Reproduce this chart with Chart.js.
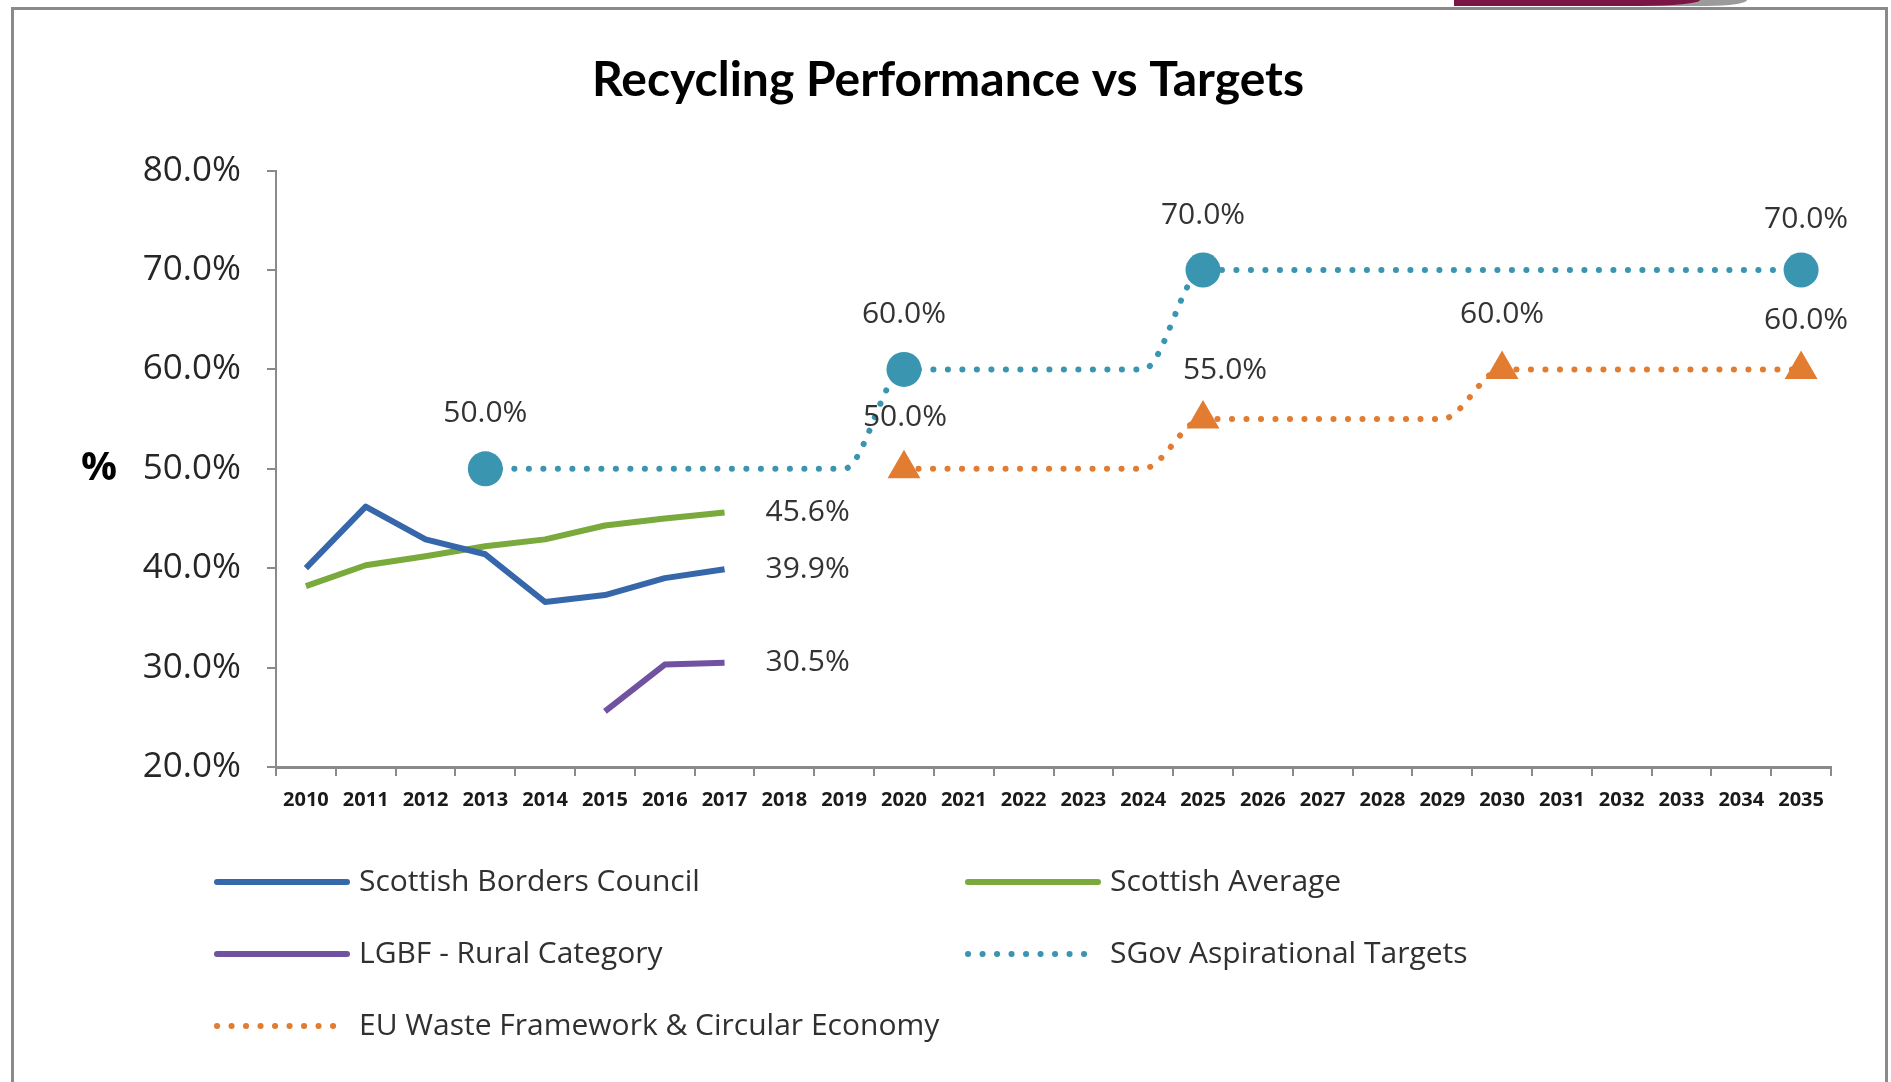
<!DOCTYPE html>
<html>
<head>
<meta charset="utf-8">
<title>Recycling Performance vs Targets</title>
<script src="https://cdn.jsdelivr.net/npm/chart.js@4.4.1/dist/chart.umd.min.js"></script>
<style>
    html, body { margin: 0; padding: 0; background: #fff; }
    body { width: 1891px; height: 1082px; position: relative; overflow: hidden; }
    #frame {
        position: absolute; left: 11px; top: 7px; width: 1871px; height: 1100px;
        border: 3px solid #8a8a8a;
    }
    #logo-grey {
        position: absolute; left: 1460px; top: 0; width: 287px; height: 6px;
        background: #9b9b9b; border-bottom-right-radius: 40px 6px;
    }
    #logo {
        position: absolute; left: 1454px; top: 0; width: 246px; height: 6px;
        background: #7b1547; border-bottom-right-radius: 60px 6px;
    }
    canvas { position: absolute; left: 0; top: 0; }
</style>
</head>
<body>
<div id="logo-grey"></div>
<div id="logo"></div>
<div id="frame"></div>
<canvas id="chart" width="1891" height="1082"></canvas>
<script>
const years = ['2010', '2011', '2012', '2013', '2014', '2015', '2016', '2017', '2018',
    '2019', '2020', '2021', '2022', '2023', '2024', '2025', '2026', '2027', '2028',
    '2029', '2030', '2031', '2032', '2033', '2034', '2035'];

const yTicks = [20, 30, 40, 50, 60, 70, 80];

// actuals (%), null where no figure
const bordersCouncil = [40.0, 46.2, 42.9, 41.4, 36.6, 37.3, 39.0, 39.9,
    null, null, null, null, null, null, null, null, null, null, null, null, null, null, null, null, null, null];
const scottishAverage = [38.2, 40.3, 41.2, 42.2, 42.9, 44.3, 45.0, 45.6,
    null, null, null, null, null, null, null, null, null, null, null, null, null, null, null, null, null, null];
const lgbfRural = [null, null, null, null, null, 25.6, 30.3, 30.5,
    null, null, null, null, null, null, null, null, null, null, null, null, null, null, null, null, null, null];

// targets (%)
const sgovTargets = [null, null, null, 50, 50, 50, 50, 50, 50, 50,
    60, 60, 60, 60, 60, 70, 70, 70, 70, 70, 70, 70, 70, 70, 70, 70];
const euTargets = [null, null, null, null, null, null, null, null, null, null,
    50, 50, 50, 50, 50, 55, 55, 55, 55, 55, 60, 60, 60, 60, 60, 60];

// which points carry a marker / value label
const actualsLabelled = [7];
const sgovMarked = [3, 10, 15, 25];
const euMarked = [10, 15, 20, 25];

const FONT = '"Open Sans", "DejaVu Sans", sans-serif';
const AXIS_GREY = '#8a8a8a';

function markerRadii(values, marked, r) {
    return values.map((v, i) => marked.includes(i) ? r : 0);
}

// value labels, the "%" axis caption and the two-column legend
const extrasPlugin = {
    id: 'extras',
    afterDatasetsDraw(chart) {
        const ctx = chart.ctx;
        ctx.save();
        ctx.font = '30px ' + FONT;
        ctx.fillStyle = '#333333';
        ctx.textBaseline = 'middle';
        chart.data.datasets.forEach((ds, i) => {
            const meta = chart.getDatasetMeta(i);
            (ds.labelAt || []).forEach(idx => {
                const pt = meta.data[idx];
                const text = ds.data[idx].toFixed(1) + '%';
                const [dx, dy] = (ds.labelShift && ds.labelShift[idx]) || [0, 0];
                if (ds.labelSide === 'right') {
                    ctx.textAlign = 'left';
                    ctx.fillText(text, pt.x + 41 + dx, pt.y + dy);
                } else {
                    ctx.textAlign = 'center';
                    ctx.fillText(text, pt.x + dx, pt.y - 55 + dy);
                }
            });
        });
        ctx.restore();
    },
    afterDraw(chart) {
        const ctx = chart.ctx;
        ctx.save();

        // axis caption
        ctx.font = 'bold 40px ' + FONT;
        ctx.fillStyle = '#000';
        ctx.textAlign = 'center';
        ctx.textBaseline = 'middle';
        ctx.fillText('%', 99, chart.scales.y.getPixelForValue(50));

        // legend
        const slots = [[215, 882], [966, 882], [215, 954], [966, 954], [215, 1026]];
        ctx.font = '30px ' + FONT;
        ctx.textAlign = 'left';
        chart.data.datasets.forEach((ds, i) => {
            const [x, y] = slots[i];
            const dotted = !!ds.borderDash;
            ctx.strokeStyle = ds.borderColor;
            ctx.lineWidth = ds.borderWidth;
            ctx.lineCap = 'round';
            ctx.setLineDash(dotted ? ds.borderDash : []);
            ctx.beginPath();
            ctx.moveTo(x + 2, y);
            ctx.lineTo(x + (dotted ? 124 : 132), y);
            ctx.stroke();
            ctx.fillStyle = '#303030';
            ctx.fillText(ds.label, x + 144, y);
        });
        ctx.restore();
    }
};

const solid = (label, data, color) => ({
    label,
    data,
    borderColor: color,
    backgroundColor: color,
    borderWidth: 6,
    borderJoinStyle: 'round',
    pointRadius: 0,
    tension: 0,
    labelAt: actualsLabelled,
    labelSide: 'right'
});

const dotted = (label, data, color, marked, style, shift) => ({
    label,
    data,
    borderColor: color,
    backgroundColor: color,
    borderWidth: 6,
    borderDash: [0.1, 14.4],
    borderCapStyle: 'round',
    cubicInterpolationMode: 'monotone',
    pointStyle: style,
    pointRadius: markerRadii(data, marked, style === 'circle' ? 17.5 : 19),
    pointBorderWidth: 0,
    labelAt: marked,
    labelSide: 'above',
    labelShift: shift
});

new Chart(document.getElementById('chart'), {
    type: 'line',
    data: {
        labels: years,
        datasets: [
            solid('Scottish Borders Council', bordersCouncil, '#3767ab'),
            solid('Scottish Average', scottishAverage, '#7aa93c'),
            solid('LGBF - Rural Category', lgbfRural, '#7152a0'),
            dotted('SGov Aspirational Targets', sgovTargets, '#3a95b1', sgovMarked, 'circle',
                { 25: [5, 4] }),
            dotted('EU Waste Framework & Circular Economy', euTargets, '#e27c30', euMarked, 'triangle',
                { 10: [1, 4], 15: [22, 6], 25: [5, 6] })
        ]
    },
    options: {
        responsive: false,
        devicePixelRatio: 1,
        animation: false,
        layout: { padding: { left: 65, right: 60, top: 0, bottom: 265 } },
        plugins: {
            legend: { display: false },
            tooltip: { enabled: false },
            title: {
                display: true,
                text: 'Recycling Performance vs Targets',
                color: '#000',
                font: { family: 'Lato', size: 48, weight: 'bold', lineHeight: 1.2 },
                padding: { top: 52, bottom: 61 }
            }
        },
        scales: {
            x: {
                offset: true,
                grid: { offset: true, drawOnChartArea: false, tickLength: 9, color: AXIS_GREY, lineWidth: 2 },
                border: { color: AXIS_GREY, width: 3 },
                ticks: {
                    autoSkip: false, maxRotation: 0, padding: 12,
                    color: '#1a1a1a',
                    font: { family: 'Open Sans', size: 20, weight: 'bold' }
                },
                afterFit: scale => { scale.height = 50; }
            },
            y: {
                min: yTicks[0],
                max: yTicks[yTicks.length - 1],
                afterBuildTicks: scale => { scale.ticks = yTicks.map(v => ({ value: v })); },
                grid: { drawOnChartArea: false, tickLength: 9, color: AXIS_GREY, lineWidth: 2 },
                border: { color: AXIS_GREY, width: 2 },
                ticks: {
                    padding: 26,
                    color: '#262626',
                    font: { family: 'Open Sans', size: 35 },
                    callback: v => Number(v).toFixed(1) + '%'
                },
                afterFit: scale => { scale.width = 211; }
            }
        }
    },
    plugins: [extrasPlugin]
});
</script>
</body>
</html>
